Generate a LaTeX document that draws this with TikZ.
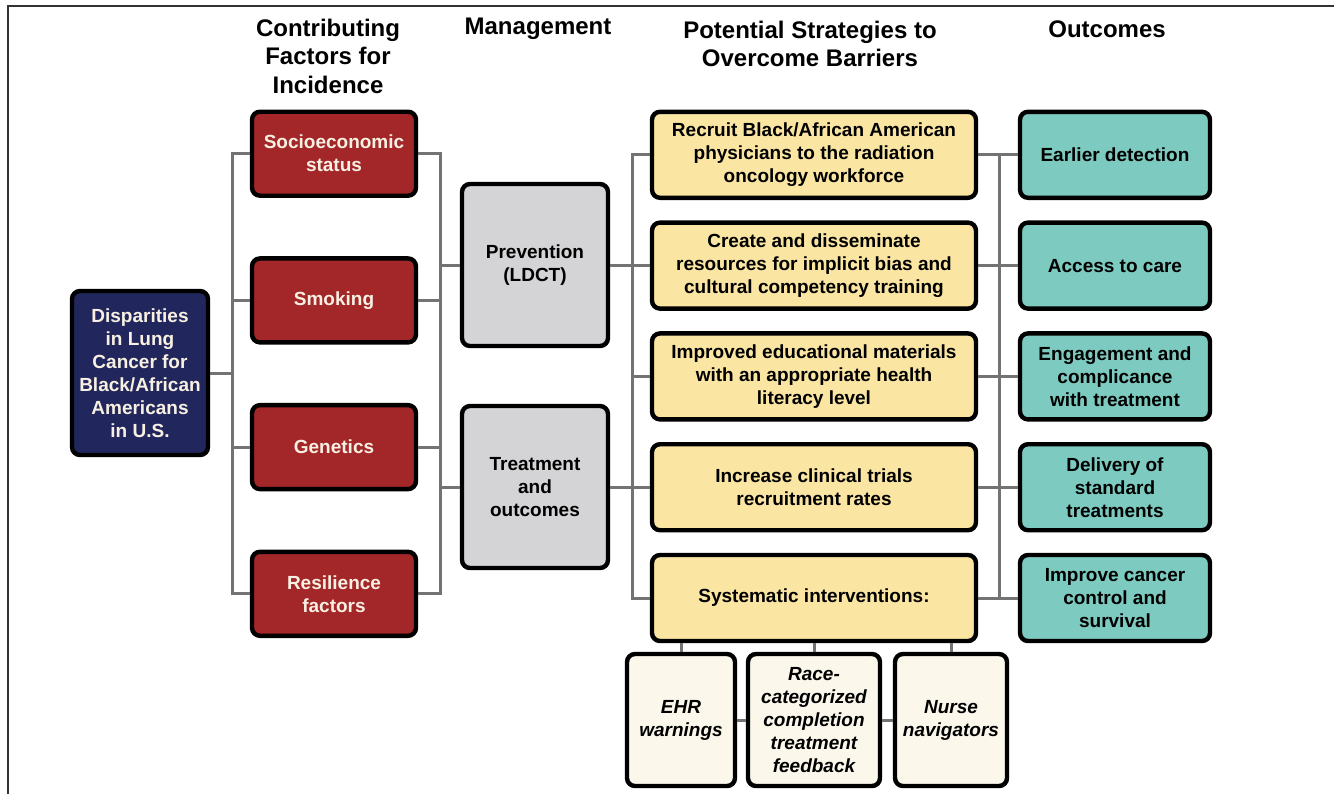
\documentclass[tikz,border=0pt]{standalone}
\usepackage{fontspec}
\setmainfont{Liberation Sans}
\usepackage{tikz}

\definecolor{navy}{RGB}{33,39,92}
\definecolor{brick}{RGB}{163,38,40}
\definecolor{stone}{RGB}{212,212,214}
\definecolor{butter}{RGB}{250,229,162}
\definecolor{teal}{RGB}{124,202,192}
\definecolor{paper}{RGB}{251,247,235}
\definecolor{cream}{RGB}{248,240,226}
\definecolor{wire}{RGB}{115,115,115}
\definecolor{rule}{RGB}{50,50,50}

\begin{document}
\begin{tikzpicture}[
		x=0.5pt, y=-0.5pt,% one unit = one pixel, y grows downwards
		font=\bfseries\fontsize{9.5}{11.5}\selectfont,
		box/.style = {rectangle, rounded corners=4pt, draw=black,
			line width=2.2pt, align=center, inner sep=2pt},
		N/.style = {box, fill=navy, text=cream,
			minimum width=68pt, minimum height=82pt},
		R/.style = {box, fill=brick, text=cream,
			minimum width=82pt, minimum height=42pt},
		G/.style = {box, fill=stone, minimum width=73pt, minimum height=81pt},
		Y/.style = {box, fill=butter, minimum width=162pt, minimum height=43pt},
		T/.style = {box, fill=teal, minimum width=95pt, minimum height=43pt},
		S/.style = {box, fill=paper, minimum height=66pt,
			font=\bfseries\itshape\fontsize{9.5}{11.5}\selectfont},
		H/.style = {align=center, font=\bfseries\fontsize{12}{14.25}\selectfont},
		L/.style = {draw=wire, line width=1.5pt},
		]
		\useasboundingbox (0,0) rectangle (1334,794);
		\draw[rule, line width=1.3pt] (8,794) -- (8,6) -- (1334,6);

		% column headings
		\node[H] (hfac) at (328,56) {Contributing\\Factors for\\Incidence};
		\node[H] (hman) at (538,29) {Management};
		\node[H] (hstr) at (810,44) {Potential Strategies to\\Overcome Barriers};
		\node[H] (hout) at (1107,29) {Outcomes};

		% first two columns
		\node[N] (dis) at (140,373) {Disparities\\in Lung\\Cancer for\\Black/African\\Americans\\in U.S.};
		\foreach \t/\n [count=\i] in {{Socioeconomic\\status}/soc,Smoking/smo,Genetics/gen,{Resilience\\factors}/res}
		\node[R] (\n) at (334,{7+146.7*\i}) {\t};
		\node[G] (pre) at (535,265) {Prevention\\(LDCT)};
		\node[G] (tre) at (535,487) {Treatment\\and\\outcomes};

		% strategies and outcomes, row by row
		\foreach \t [count=\i] in {{Recruit Black/African American\\physicians to the radiation\\oncology workforce},
			{Create and disseminate\\resources for implicit bias and\\cultural competency training},
			{Improved educational materials\\with an appropriate health\\literacy level},
			{Increase clinical trials\\recruitment rates},
			{Systematic interventions:}}
		\node[Y] (y\i) at (814,{44+110.8*\i}) {\t};
		\foreach \t [count=\i] in {{Earlier detection},{Access to care},
			{Engagement and\\complicance\\with treatment},
			{Delivery of\\standard\\treatments},
			{Improve cancer\\control and\\survival}}
		\node[T] (t\i) at (1115,{44+110.8*\i}) {\t};

		% systematic interventions
		\node[S, minimum width=54pt] (s1) at (681,720) {EHR\\warnings};
		\node[S, minimum width=66pt] (s2) at (814,720) {Race-\\categorized\\completion\\treatment\\feedback};
		\node[S, minimum width=56pt] (s3) at (951,720) {Nurse\\navigators};

		% bus lines
		\coordinate (b1) at (232,0);
		\coordinate (b2) at (440,0);
		\coordinate (b3) at (632,0);
		\coordinate (b4) at (999,0);
		\draw[L] (dis.east) -- (dis.east -| b1);
		\draw[L] (soc.west) -| (b1 |- res.west) -- (res.west);
		\draw[L] (soc.east) -| (b2 |- res.east) -- (res.east);
		\foreach \n in {smo,gen} {
			\draw[L] (\n.west) -- (\n.west -| b1);
			\draw[L] (\n.east) -- (\n.east -| b2);
		}
		\draw[L] (b2 |- pre.west) -- (pre.west);
		\draw[L] (b2 |- tre.west) -- (tre.west);
		\draw[L] (y1.west) -| (b3 |- y5.west) -- (y5.west);
		\draw[L] (pre.east) -- (pre.east -| b3);
		\draw[L] (tre.east) -- (tre.east -| b3);
		\draw[L] (b4 |- y1.east) -- (b4 |- y5.east);
		\foreach \i in {1,...,5} {
			\draw[L] (y\i.west) -- (y\i.west -| b3);
			\draw[L] (y\i.east) -- (t\i.west);
		}
		\foreach \i in {1,2,3}
		\draw[L] (s\i.north) -- (s\i.north |- y5.south);
		\draw[L] (s1.east) -- (s2.west);
		\draw[L] (s2.east) -- (s3.west);
	\end{tikzpicture}
\end{document}
